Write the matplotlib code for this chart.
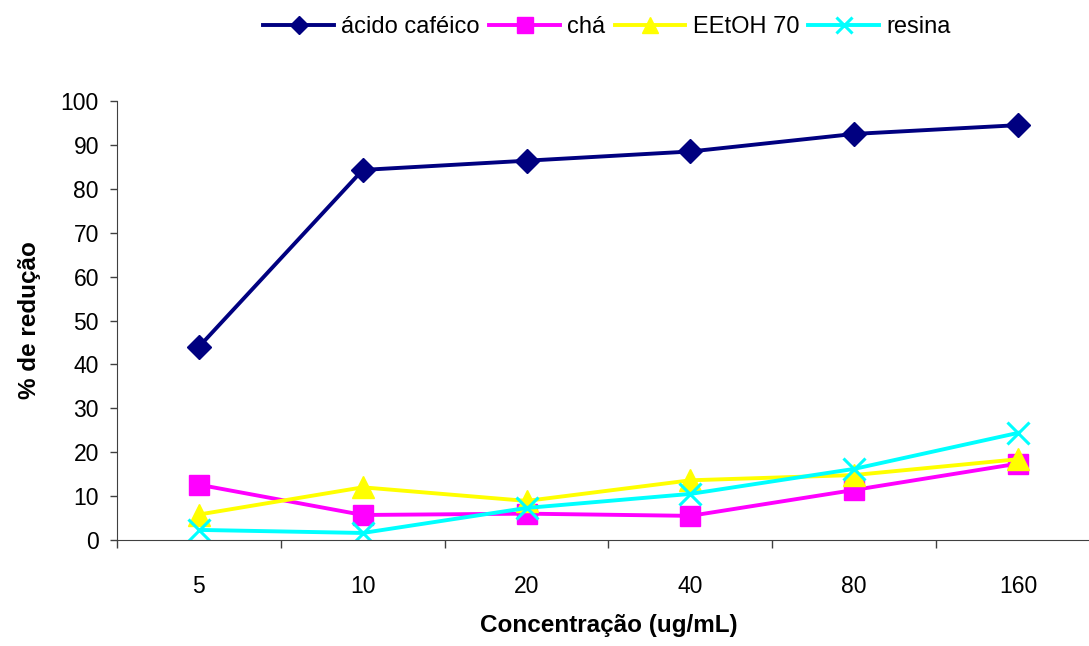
import matplotlib.pyplot as plt
import numpy as np

plt.rcParams['font.family'] = ['Liberation Sans', 'DejaVu Sans']

concentrations = ['5', '10', '20', '40', '80', '160']
acido_cafeico = [44.0, 84.3, 86.4, 88.5, 92.5, 94.5]
cha = [12.6, 5.7, 6.0, 5.5, 11.4, 17.4]
eetoh_70 = [5.8, 12.0, 8.9, 13.6, 14.8, 18.4]
resina = [2.3, 1.6, 7.3, 10.5, 16.2, 24.4]

x = np.arange(len(concentrations))

fig = plt.figure(figsize=(10.89, 6.46), dpi=100)
ax = fig.add_axes([117 / 1089, 106 / 646, 983 / 1089, 439 / 646])

ax.plot(x, acido_cafeico, color='#000080', lw=2.8, marker='D', ms=12, label='ácido caféico')
ax.plot(x, cha, color='#FF00FF', lw=2.8, marker='s', ms=15, label='chá')
ax.plot(x, eetoh_70, color='#FFFF00', lw=2.8, marker='^', ms=16, label='EEtOH 70')
ax.plot(x, resina, color='#00FFFF', lw=2.8, marker='x', ms=16, mew=2.2, label='resina')

ax.set_xlim(-0.5, 5.5)
ax.set_ylim(0, 100)
ax.set_yticks(np.arange(0, 101, 10))
ax.set_xticks(x)
ax.set_xticklabels(concentrations)
ax.set_xticks(np.arange(-0.5, 6, 1), minor=True)
ax.tick_params(axis='x', which='major', length=0, pad=25, labelsize=16.5)
ax.tick_params(axis='x', which='minor', length=6, width=1, color='#404040')
ax.tick_params(axis='y', length=5, width=1, pad=8, labelsize=16.5, color='#404040')

ax.spines['top'].set_visible(False)
ax.spines['right'].set_visible(False)
ax.spines['left'].set_color('#404040')
ax.spines['bottom'].set_color('#404040')

ax.set_xlabel('Concentração (ug/mL)', fontsize=17.5, fontweight='bold', labelpad=12)
ax.set_ylabel('% de redução', fontsize=17.5, fontweight='bold', labelpad=14)

fig.legend(loc='center', bbox_to_anchor=(607 / 1089, 1 - 27 / 646), ncol=4,
           frameon=False, fontsize=17, handlelength=3.0, handletextpad=0.3,
           columnspacing=0.4, markerscale=0.75)

fig.savefig('out.png', dpi=100)
